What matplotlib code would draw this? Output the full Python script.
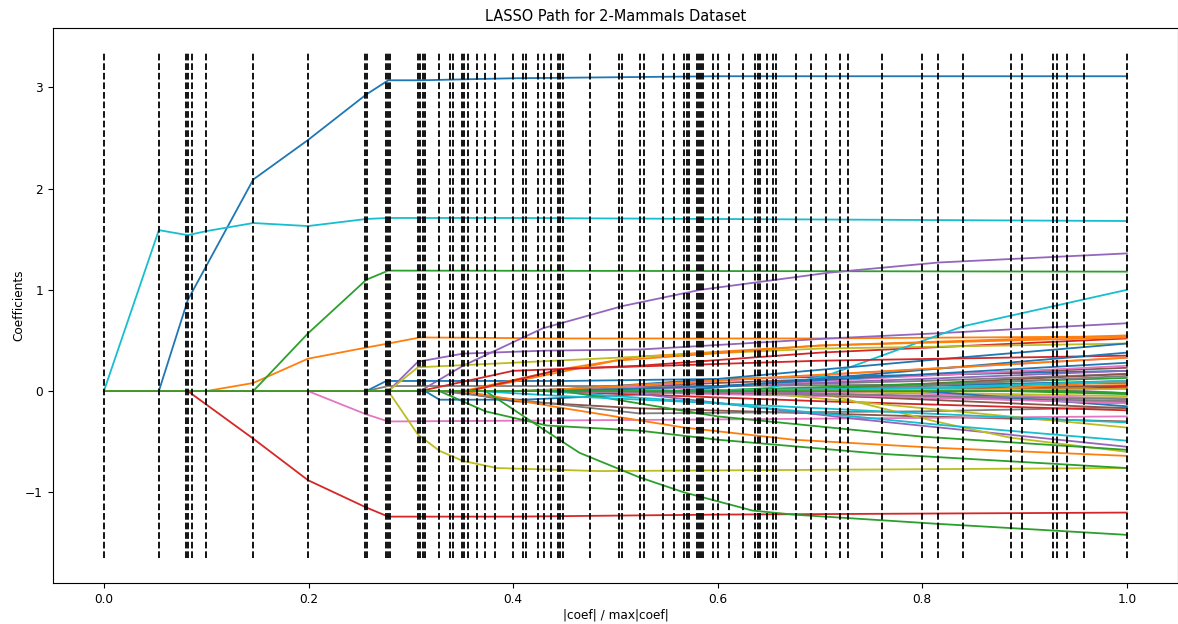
import matplotlib
matplotlib.use("Agg")
import matplotlib.pyplot as plt

plt.rcParams['font.size'] = 8.7

# breakpoints of the LARS path (|coef| / max|coef|)
xx = [0.0, 0.0537, 0.080, 0.082, 0.086, 0.100, 0.146, 0.1995, 0.2555, 0.2575,
      0.276, 0.278, 0.280, 0.307, 0.309, 0.312, 0.314, 0.328, 0.3385, 0.341,
      0.350, 0.352, 0.356, 0.365, 0.373, 0.382, 0.400, 0.4095, 0.4128, 0.424,
      0.4307, 0.437, 0.4437, 0.4463, 0.449, 0.4753, 0.504, 0.506, 0.5244, 0.528,
      0.547, 0.5576, 0.5674, 0.5696, 0.5723, 0.580, 0.582, 0.584, 0.586, 0.5957,
      0.600, 0.611, 0.6243, 0.6367, 0.639, 0.641, 0.6487, 0.654, 0.6575, 0.677,
      0.691, 0.7057, 0.7194, 0.7278, 0.7604, 0.8001, 0.8157, 0.8398, 0.8864, 0.8972,
      0.9277, 0.932, 0.9417, 0.958, 1.0]

# coefficient paths, one (x knots, coef values) pair per feature
# feature order follows the default colour cycle
coef_x = [
    # 0-9
    [0.0537, 0.082, 0.146, 0.1995, 0.2565, 0.278, 0.31, 0.4, 0.6, 1.0],
    [0.100, 0.146, 0.1995, 0.2565, 0.278, 0.309, 0.45, 0.7, 1.0],
    [0.146, 0.1995, 0.2565, 0.278, 1.0],
    [0.082, 0.146, 0.1995, 0.2565, 0.278, 0.4, 0.6, 1.0],
    [0.309, 0.351, 0.429, 0.507, 0.583, 0.709, 0.8157, 1.0],
    [0.341, 0.4, 0.523, 0.8, 1.0],
    [0.1995, 0.2565, 0.278, 0.6, 1.0],
    [0.2565, 0.278, 0.6, 1.0],
    [0.278, 0.307, 0.328, 0.351, 0.384, 0.484, 1.0],
    [0.0, 0.0537, 0.082, 0.100, 0.146, 0.1995, 0.2565, 0.278, 0.4, 0.6, 1.0],
    # 10-19
    [0.2565, 0.276, 0.45, 0.6, 1.0],
    [0.351, 0.45, 0.523, 0.7, 1.0],
    [0.328, 0.373, 0.433, 0.523, 0.6, 0.76, 1.0],
    [0.309, 0.4, 0.523, 0.7, 1.0],
    [0.278, 0.307, 0.351, 0.433, 0.523, 0.709, 0.813, 1.0],
    [0.4, 0.6, 1.0],
    [0.44, 0.6, 1.0],
    [0.328, 0.523, 0.8, 1.0],
    [0.278, 0.307, 0.523, 0.7, 1.0],
    [0.5957, 0.6487, 0.7057, 0.8398, 1.0],
    # 20-29
    [0.314, 0.328, 0.41, 0.55, 0.8, 1.0],
    [0.351, 0.45, 0.567, 0.674, 0.813, 1.0],
    [0.373, 0.433, 0.465, 0.523, 0.567, 0.634, 0.674, 0.813, 1.0],
    [0.4307, 0.7, 1.0],
    [0.5, 0.74, 1.0],
    [0.5244, 0.8, 1.0],
    [0.4463, 0.7, 1.0],
    [0.4095, 0.8, 1.0],
    [0.582, 0.709, 0.813, 0.886, 1.0],
    [0.4307, 0.6, 0.813, 1.0],
    # 30-39
    [0.424, 0.6, 0.8, 1.0],
    [0.356, 0.5, 0.7, 1.0],
    [0.45, 0.6, 0.8, 1.0],
    [0.356, 0.45, 0.7, 1.0],
    [0.4753, 0.8, 1.0],
    [0.654, 1.0],
    [0.504, 0.8, 1.0],
    [0.547, 1.0],
    [0.6243, 1.0],
    [0.365, 0.45, 0.6, 0.8, 1.0],
    # 40-49
    [0.5576, 1.0],
    [0.5674, 1.0],
    [0.5723, 1.0],
    [0.600, 1.0],
    [0.6367, 1.0],
    [0.600, 1.0],
    [0.677, 1.0],
    [0.691, 1.0],
    [0.7194, 1.0],
    [0.7604, 1.0],
    # 50-59
    [0.8001, 1.0],
    [0.8398, 1.0],
    [0.8864, 1.0],
    [0.9277, 1.0],
    [0.958, 1.0],
    [0.611, 1.0],
    [0.584, 1.0],
    [0.4437, 0.7, 1.0],
    [0.506, 1.0],
    [0.528, 0.8, 1.0],
    # 60-62
    [0.449, 0.6, 1.0],
    [0.4128, 1.0],
    [0.9417, 1.0],
]

coef_y = [
    # 0-9
    [0.0, 0.90, 2.09, 2.48, 2.93, 3.07, 3.07, 3.09, 3.11, 3.11],
    [0.0, 0.08, 0.32, 0.43, 0.47, 0.53, 0.52, 0.52, 0.54],
    [0.0, 0.57, 1.10, 1.19, 1.18],
    [0.0, -0.47, -0.88, -1.15, -1.24, -1.24, -1.22, -1.20],
    [0.0, 0.25, 0.62, 0.84, 1.00, 1.17, 1.27, 1.36],
    [0.0, -0.10, -0.17, -0.25, -0.30],
    [0.0, -0.23, -0.30, -0.28, -0.25],
    [0.0, 0.05, 0.05, 0.08],
    [0.0, -0.43, -0.59, -0.69, -0.76, -0.79, -0.76],
    [0.0, 1.59, 1.54, 1.58, 1.66, 1.63, 1.70, 1.71, 1.71, 1.70, 1.68],
    # 10-19
    [0.0, 0.10, 0.10, 0.12, 0.20],
    [0.0, 0.22, 0.34, 0.45, 0.55],
    [0.0, -0.20, -0.34, -0.39, -0.48, -0.62, -0.76],
    [0.0, 0.20, 0.25, 0.38, 0.52],
    [0.0, 0.29, 0.37, 0.40, 0.41, 0.52, 0.57, 0.67],
    [0.0, 0.08, 0.23],
    [0.0, 0.10, 0.33],
    [0.0, -0.22, -0.20, -0.16],
    [0.0, 0.235, 0.34, 0.42, 0.47],
    [0.0, 0.03, 0.15, 0.64, 1.00],
    # 20-29
    [0.0, -0.085, -0.085, -0.02, 0.05, 0.10],
    [0.0, -0.17, -0.36, -0.48, -0.56, -0.64],
    [0.0, -0.40, -0.61, -0.85, -1.00, -1.18, -1.22, -1.31, -1.42],
    [0.0, -0.10, -0.19],
    [0.0, -0.28, -0.55],
    [0.0, -0.05, -0.12],
    [0.0, -0.05, -0.10],
    [0.0, 0.10, 0.17],
    [0.0, -0.04, -0.30, -0.46, -0.60],
    [0.0, -0.12, -0.33, -0.49],
    # 30-39
    [0.0, 0.12, 0.30, 0.47],
    [0.0, 0.30, 0.45, 0.53],
    [0.0, -0.25, -0.45, -0.58],
    [0.0, 0.22, 0.30, 0.35],
    [0.0, 0.12, 0.20],
    [0.0, 0.17],
    [0.0, 0.15, 0.25],
    [0.0, -0.10],
    [0.0, -0.36],
    [0.0, -0.05, -0.12, -0.22, -0.31],
    # 40-49
    [0.0, 0.38],
    [0.0, 0.06],
    [0.0, 0.13],
    [0.0, 0.03],
    [0.0, -0.12],
    [0.0, 0.05],
    [0.0, -0.07],
    [0.0, 0.15],
    [0.0, -0.05],
    [0.0, 0.10],
    # 50-59
    [0.0, -0.15],
    [0.0, 0.10],
    [0.0, -0.03],
    [0.0, 0.05],
    [0.0, -0.02],
    [0.0, -0.17],
    [0.0, -0.12],
    [0.0, -0.03, -0.08],
    [0.0, 0.02],
    [0.0, 0.03, 0.10],
    # 60-62
    [0.0, 0.05, 0.28],
    [0.0, 0.33],
    [0.0, -0.02],
]

fig = plt.figure(figsize=(11.78, 6.24), dpi=100)
ax = fig.add_axes([0.0448, 0.0657, 0.9552, 0.8893])

for kx, ky in zip(coef_x, coef_y):
    # every feature sits at zero until it enters the active set
    if kx[0] > 0:
        kx = [0.0] + kx
        ky = [0.0] + ky
    ax.plot(kx, ky, linewidth=1.3)

ymin, ymax = ax.get_ylim()
ax.vlines(xx, ymin, ymax, linestyle='dashed', color='k', linewidth=1.3)

ax.set_xlabel('|coef| / max|coef|', labelpad=2)
ax.set_ylabel('Coefficients', labelpad=0)
ax.set_title('LASSO Path for 2-Mammals Dataset', pad=5)

fig.savefig('out.png', dpi=100)
